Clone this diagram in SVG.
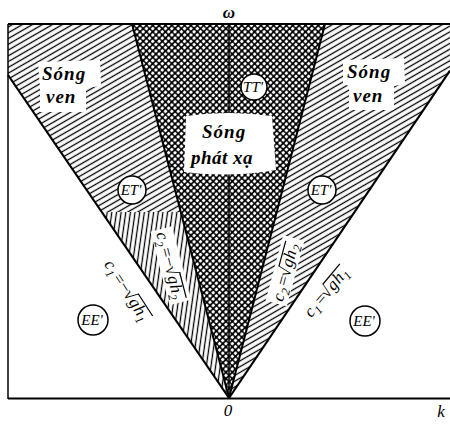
<svg xmlns="http://www.w3.org/2000/svg" width="450" height="426" viewBox="0 0 450 426">
<style>
.lbl{font-family:"Liberation Serif","DejaVu Serif",serif;font-style:italic;font-weight:bold;font-size:19px;fill:#000}
.cl{font-family:"Liberation Serif","DejaVu Serif",serif;font-style:italic;font-size:17px;fill:#000}
.sub{font-size:12px}
.circ{fill:#fff;stroke:#000;stroke-width:1.5}
.ct{font-family:"Liberation Serif","DejaVu Serif",serif;font-style:italic;font-size:15px;text-anchor:middle;fill:#000}
.ax{font-family:"Liberation Serif","DejaVu Serif",serif;font-style:italic;font-size:17px;fill:#000}
.ln{stroke:#000;fill:none}
.vin{stroke:#000;stroke-width:1.2}
</style>
<defs>
<pattern id="hatch" width="5" height="5" patternUnits="userSpaceOnUse" patternTransform="rotate(-30)">
<line x1="0" y1="2.5" x2="5" y2="2.5" stroke="#000" stroke-width="1.3"/>
</pattern>
<pattern id="vhatch" width="4.6" height="4.6" patternUnits="userSpaceOnUse" patternTransform="rotate(8)">
<line x1="2.3" y1="0" x2="2.3" y2="4.6" stroke="#000" stroke-width="1.3"/>
</pattern>
<pattern id="cross" width="4.5" height="4.5" patternUnits="userSpaceOnUse" patternTransform="rotate(45)">
<rect width="4.5" height="4.5" fill="#000"/>
<rect x="0.75" y="0.75" width="3" height="3" rx="1" fill="#fff"/>
</pattern>
</defs>
<rect width="450" height="426" fill="#fff"/>
<g id="region-left">
<polygon points="8,24 132,24 180.8,212 101.7,212 8,75" fill="url(#hatch)"/>
<polygon points="101.7,212 180.8,212 229,398" fill="url(#vhatch)"/>
</g>
<g id="region-right">
<polygon points="325,24 450,24 450,70.5 229,398" fill="url(#hatch)"/>
</g>
<g id="region-center">
<polygon points="132,24 325,24 229,398" fill="url(#cross)"/>
</g>
<g id="connectors">
<line class="ln" x1="8" y1="24" x2="450" y2="24" stroke-width="2"/>
<line class="ln" x1="8" y1="24" x2="8" y2="399" stroke-width="1.5"/>
<line class="ln" x1="8" y1="398.5" x2="450" y2="398.5" stroke-width="2"/>
<line class="ln" x1="229" y1="24" x2="229" y2="398" stroke-width="1.5"/>
<line class="ln" x1="229" y1="398" x2="8" y2="75" stroke-width="2.2"/>
<line class="ln" x1="229" y1="398" x2="450" y2="70.5" stroke-width="2.2"/>
<line class="ln" x1="229" y1="398" x2="132" y2="24" stroke-width="2"/>
<line class="ln" x1="229" y1="398" x2="325" y2="24" stroke-width="2"/>
</g>
<g id="label-song-ven-left">
<path d="M38,62 L100,60 L101,86 L86,88 L86,112 L40,112 L40,88 Z" fill="#fff"/>
<text class="lbl" x="42" y="80" letter-spacing="1">Sóng</text>
<text class="lbl" x="46" y="103" letter-spacing="1">ven</text>
</g>
<g id="label-song-ven-right">
<path d="M343,60 L404,58 L405,84 L394,86 L394,110 L349,110 L349,86 L343,84 Z" fill="#fff"/>
<text class="lbl" x="347" y="78" letter-spacing="1">Sóng</text>
<text class="lbl" x="353" y="102" letter-spacing="1">ven</text>
</g>
<g id="label-song-phat-xa">
<path d="M186,116 Q228,110 272,116 L276,170 Q230,178 184,172 Z" fill="#fff"/>
<text class="lbl" x="202" y="138" letter-spacing="1">Sóng</text>
<text class="lbl" x="191" y="164" letter-spacing="0.5">phát xạ</text>
</g>
<g id="node-TT">
<circle class="circ" cx="254" cy="87" r="13"/>
<text class="ct" x="253" y="92">TT'</text>
</g>
<g id="node-ET-left">
<circle class="circ" cx="132" cy="190" r="14"/>
<text class="ct" x="131" y="195">ET'</text>
</g>
<g id="node-ET-right">
<circle class="circ" cx="322" cy="190" r="14"/>
<text class="ct" x="321" y="195">ET'</text>
</g>
<g id="node-EE-left">
<circle class="circ" cx="93" cy="320" r="15"/>
<text class="ct" x="92" y="325">EE'</text>
</g>
<g id="node-EE-right">
<circle class="circ" cx="365" cy="321" r="15"/>
<text class="ct" x="364" y="326">EE'</text>
</g>
<g id="label-c1-left" transform="translate(110,265) rotate(57)">
<text class="cl" y="5"><tspan x="-4">c</tspan><tspan class="sub" x="4" y="9">1</tspan><tspan x="11" y="5">=</tspan><tspan x="21">−</tspan><tspan x="31">√</tspan><tspan x="41">g</tspan><tspan x="50">h</tspan><tspan class="sub" x="59" y="9">1</tspan></text>
<line class="vin" x1="39.5" y1="-8" x2="66" y2="-8"/>
</g>
<g id="label-c2-left" transform="translate(162,236) rotate(75.5)">
<rect x="-7" y="-12" width="76" height="22" fill="#fff"/>
<text class="cl" y="5"><tspan x="-4">c</tspan><tspan class="sub" x="4" y="9">2</tspan><tspan x="11" y="5">=</tspan><tspan x="21">−</tspan><tspan x="31">√</tspan><tspan x="41">g</tspan><tspan x="50">h</tspan><tspan class="sub" x="59" y="9">2</tspan></text>
<line class="vin" x1="39.5" y1="-8" x2="66" y2="-8"/>
</g>
<g id="label-c2-right" transform="translate(279,297) rotate(-75)">
<rect x="-7" y="-12" width="68" height="22" fill="#fff"/>
<text class="cl" y="5"><tspan x="-4">c</tspan><tspan class="sub" x="4" y="9">2</tspan><tspan x="11" y="5">=</tspan><tspan x="21">√</tspan><tspan x="31">g</tspan><tspan x="40">h</tspan><tspan class="sub" x="49" y="9">2</tspan></text>
<line class="vin" x1="29.5" y1="-8" x2="56" y2="-8"/>
</g>
<g id="label-c1-right" transform="translate(310,312) rotate(-50)">
<text class="cl" y="5"><tspan x="-4">c</tspan><tspan class="sub" x="4" y="9">1</tspan><tspan x="11" y="5">=</tspan><tspan x="21">√</tspan><tspan x="31">g</tspan><tspan x="40">h</tspan><tspan class="sub" x="49" y="9">1</tspan></text>
<line class="vin" x1="29.5" y1="-8" x2="56" y2="-8"/>
</g>
<g id="axis-labels">
<text class="ax" x="229" y="18" text-anchor="middle" font-weight="bold" font-style="normal" font-size="19">ω</text>
<text class="ax" x="228" y="416" text-anchor="middle">0</text>
<text class="ax" x="441" y="417" text-anchor="middle">k</text>
</g>
</svg>
